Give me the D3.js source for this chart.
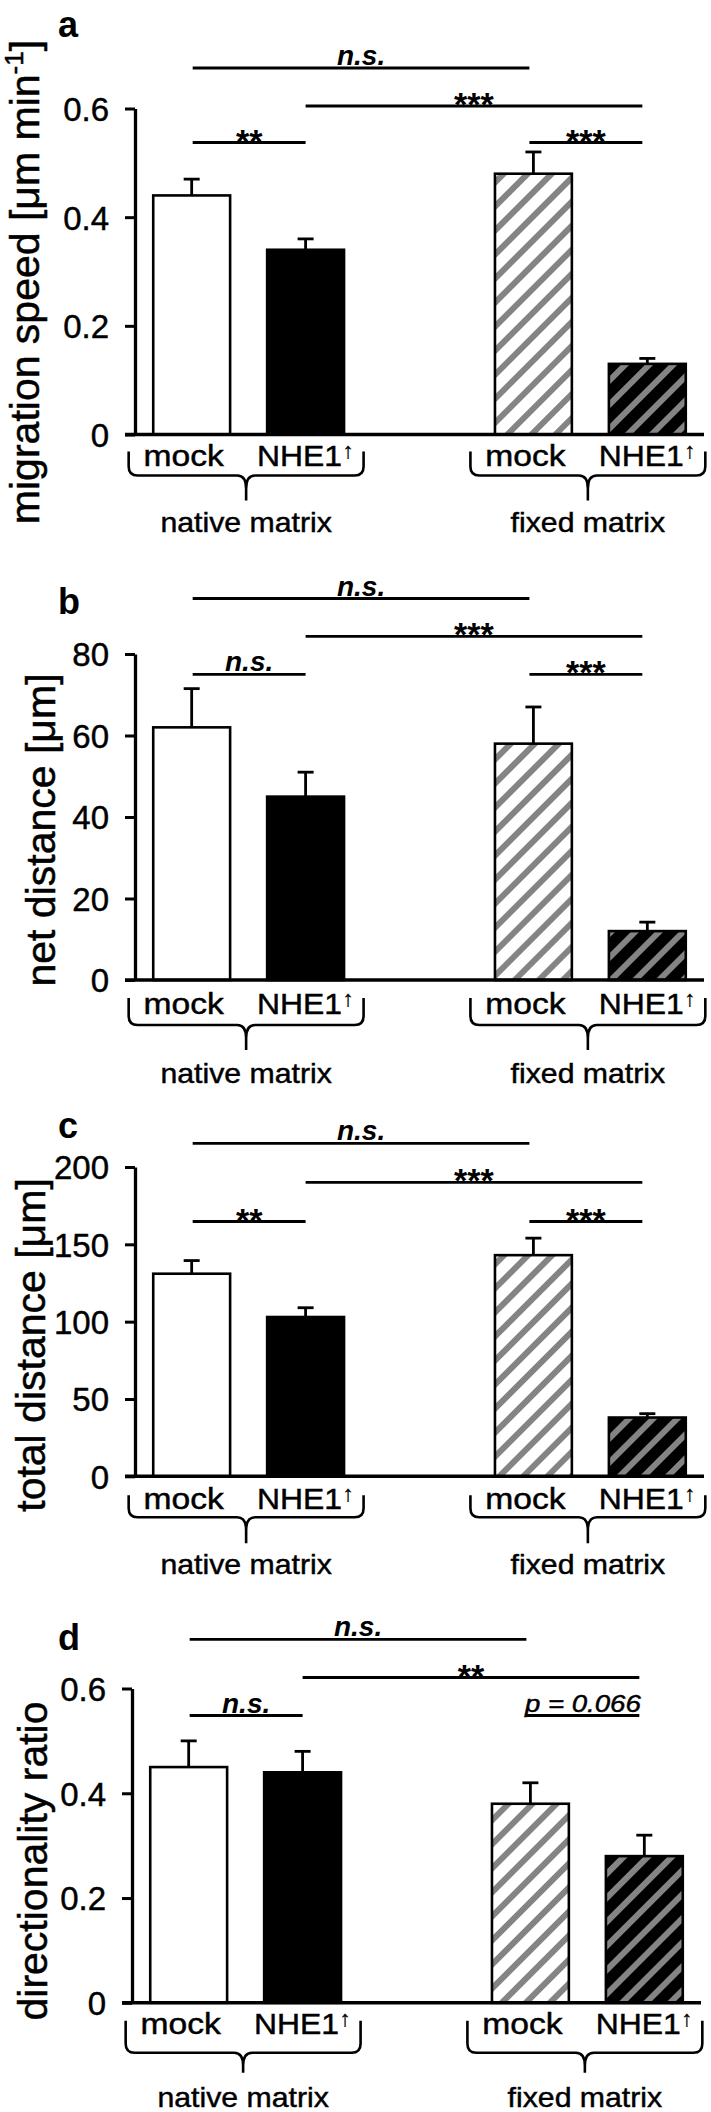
<!DOCTYPE html>
<html><head><meta charset="utf-8">
<script src="https://cdn.jsdelivr.net/npm/d3@7"></script>
<style>body{margin:0;background:#fff}svg{display:block}</style>
</head><body>
<script>
// ---------- data ----------
const categories = ["native-mock", "native-NHE1", "gap", "fixed-mock", "fixed-NHE1"];
const barCategories = ["native-mock", "native-NHE1", "fixed-mock", "fixed-NHE1"];
const barLabels = ["mock", "NHE1", "mock", "NHE1"];
const groupLabels = ["native matrix", "fixed matrix"];

const speedMean = [0.44, 0.34, 0.48, 0.13];
const speedErr  = [0.03, 0.02, 0.04, 0.01];
const netMean   = [62, 45, 58, 12];
const netErr    = [9.5, 6, 9, 2.2];
const totalMean = [131, 103, 143, 38];
const totalErr  = [8.5, 6, 11, 2.5];
const dirMean   = [0.45, 0.44, 0.38, 0.28];
const dirErr    = [0.05, 0.04, 0.04, 0.04];

const speedTicks = [0, 0.2, 0.4, 0.6];
const netTicks   = [0, 20, 40, 60, 80];
const totalTicks = [0, 50, 100, 150, 200];
const dirTicks   = [0, 0.2, 0.4, 0.6];

const sigPairs  = [[0, 2], [1, 3], [0, 1], [2, 3]];
const sigLevels = [0, 1, 2, 2];
const sigA = ["n.s.", "***", "**", "***"];
const sigB = ["n.s.", "***", "n.s.", "***"];
const sigC = ["n.s.", "***", "**", "***"];
const sigD = ["n.s.", "**", "n.s.", "p = 0.066"];

const panelLetters = ["a", "b", "c", "d"];
const yTitles = [["migration speed [μm min", "-1", "]"], ["net distance [μm]"], ["total distance [μm]"], ["directionality ratio"]];

// ---------- layout (positions only) ----------
const layout = [
  {zero: 434.5, top: 108.5, sig: [68, 106, 142.5], letterY: 37, yLabelX: 39, yLabelY: 282, dx: 0, lab: 31, brace: [17, 41, 66], group: 97.5},
  {zero: 980, top: 654, sig: [598.5, 636.4, 674.3], letterY: 614, yLabelX: 55, yLabelY: 830, dx: 0, lab: 34, brace: [18, 45, 70], group: 103},
  {zero: 1476.3, top: 1167, sig: [1143.3, 1182.3, 1221.5], letterY: 1138, yLabelX: 45, yLabelY: 1345, dx: 0, lab: 33, brace: [19, 41, 67], group: 98},
  {zero: 2002.8, top: 1688.5, sig: [1639.3, 1677.5, 1715.5], letterY: 1650, yLabelX: 47, yLabelY: 1861, dx: -3, lab: 31, brace: [18, 50, 70], group: 104}
];
const sigAdj = [1, 0, -4, -5];

const panels = [
  {mean: speedMean, err: speedErr, ticks: speedTicks, sig: sigA},
  {mean: netMean, err: netErr, ticks: netTicks, sig: sigB},
  {mean: totalMean, err: totalErr, ticks: totalTicks, sig: sigC},
  {mean: dirMean, err: dirErr, ticks: dirTicks, sig: sigD}
];

const FONT = "'Liberation Sans', Arial, Helvetica, sans-serif";
const W = 711, H = 2112;
const svg = d3.select("body").append("svg").attr("width", W).attr("height", H)
  .style("font-family", FONT);

// patterns
const defs = svg.append("defs");
[["hatchWhite", "#fff"], ["hatchBlack", "#000"]].forEach(([id, bg]) => {
  const p = defs.append("pattern").attr("id", id).attr("patternUnits", "userSpaceOnUse")
    .attr("width", 17).attr("height", 17).attr("patternTransform", "rotate(45)");
  p.append("rect").attr("width", 17).attr("height", 17).attr("fill", bg);
  p.append("rect").attr("x", 0).attr("width", 6).attr("height", 17).attr("fill", "#848484");
});
const fills = ["#fff", "#000", "url(#hatchWhite)", "url(#hatchBlack)"];

function stext(g, x, y, str, size, sx, opts = {}) {
  const t = g.append("g").attr("transform", `translate(${x},${y}) scale(${sx},1)`)
    .append("text").attr("text-anchor", opts.anchor || "middle")
    .attr("font-size", size).attr("fill", "#000");
  if (opts.weight) t.attr("font-weight", opts.weight);
  else t.attr("stroke", "#000").attr("stroke-width", 0.45);
  if (opts.style) t.attr("font-style", opts.style);
  t.text(str);
  return t;
}

panels.forEach((P, pi) => {
  const L = layout[pi];
  const g = svg.append("g");
  const x = d3.scaleBand().domain(categories).range([135 + L.dx, 704 + L.dx])
    .paddingInner(0.325).paddingOuter(0.16);
  const y = d3.scaleLinear().domain([0, d3.max(P.ticks)]).range([L.zero, L.top]);
  const cx = i => x(barCategories[i]) + x.bandwidth() / 2;

  // panel letter
  g.append("text").attr("x", 58).attr("y", L.letterY).attr("font-size", 36)
    .attr("font-weight", "bold").text(panelLetters[pi]);

  // y title
  const yt = g.append("text").attr("transform", `translate(${L.yLabelX},${L.yLabelY}) rotate(-90)`)
    .attr("text-anchor", "middle").attr("font-size", 41)
    .attr("stroke", "#000").attr("stroke-width", 0.5);
  const parts = yTitles[pi];
  if (parts.length === 1) yt.text(parts[0]);
  else {
    yt.append("tspan").text(parts[0]);
    yt.append("tspan").attr("font-size", 26).attr("dy", -16).text(parts[1]);
    yt.append("tspan").attr("dy", 16).text(parts[2]);
  }

  // bars
  g.selectAll("rect.bar").data(P.mean).join("rect").attr("class", "bar")
    .attr("x", (d, i) => x(barCategories[i])).attr("width", x.bandwidth())
    .attr("y", d => y(d)).attr("height", d => y(0) - y(d))
    .attr("fill", (d, i) => fills[i]).attr("stroke", "#000").attr("stroke-width", 2.6);

  // error bars
  const eb = g.selectAll("g.eb").data(P.mean).join("g").attr("class", "eb")
    .attr("stroke", "#000").attr("stroke-width", 2.8);
  eb.append("line").attr("x1", (d, i) => cx(i)).attr("x2", (d, i) => cx(i))
    .attr("y1", d => y(d)).attr("y2", (d, i) => y(d + P.err[i]));
  eb.append("line").attr("x1", (d, i) => cx(i) - 8).attr("x2", (d, i) => cx(i) + 8)
    .attr("y1", (d, i) => y(d + P.err[i])).attr("y2", (d, i) => y(d + P.err[i]));

  // y axis
  const yAxis = d3.axisLeft(y).tickValues(P.ticks).tickSize(10).tickSizeOuter(0).tickPadding(16)
    .tickFormat(d => String(d));
  const ya = g.append("g").attr("transform", `translate(${x.range()[0]},0)`).call(yAxis);
  ya.select(".domain").attr("stroke", "#000").attr("stroke-width", 3.3);
  ya.selectAll(".tick line").attr("stroke", "#000").attr("stroke-width", 3);
  ya.selectAll(".tick text").attr("font-size", 33).attr("font-family", FONT).attr("fill", "#000")
    .attr("stroke", "#000").attr("stroke-width", 0.45).attr("dy", "0.36em");

  // x axis line
  g.append("line").attr("x1", x.range()[0] - 10).attr("x2", x.range()[1])
    .attr("y1", y(0)).attr("y2", y(0)).attr("stroke", "#000").attr("stroke-width", 3.5);

  // category labels
  barLabels.forEach((lab, i) => {
    if (lab === "mock") {
      stext(g, cx(i) - 8, L.zero + L.lab, lab, 29, 1.16);
    } else {
      const t = stext(g, cx(i), L.zero + L.lab, "", 29, 1.1);
      t.append("tspan").text(lab);
      t.append("tspan").attr("font-size", 22).attr("stroke-width", 0.2).attr("dy", -8).text("↑");
    }
  });

  // braces + group labels
  [[0, 1], [2, 3]].forEach(([a, b], gi) => {
    const x0 = cx(a) - 63, x1 = cx(b) + 58, mid = (x0 + x1) / 2;
    const t0 = L.zero + L.brace[0], h = L.zero + L.brace[1], tip = L.zero + L.brace[2], r = 9;
    const path = `M${x0},${t0} L${x0},${h - r} Q${x0},${h} ${x0 + r},${h} L${mid - r},${h} Q${mid},${h} ${mid},${h + r + 4} L${mid},${tip}` +
      ` M${mid},${h + r + 4} Q${mid},${h} ${mid + r},${h} L${x1 - r},${h} Q${x1},${h} ${x1},${h - r} L${x1},${t0}`;
    g.append("path").attr("d", path).attr("fill", "none").attr("stroke", "#000").attr("stroke-width", 2.6);
    stext(g, mid, L.zero + L.group, groupLabels[gi], 28, 1.08);
  });

  // significance
  sigPairs.forEach(([a, b], si) => {
    const ly = L.sig[sigLevels[si]];
    const xa = cx(a) + sigAdj[a], xb = cx(b) + sigAdj[b];
    g.append("line").attr("x1", xa).attr("x2", xb).attr("y1", ly).attr("y2", ly)
      .attr("stroke", "#000").attr("stroke-width", 2.8);
    const label = P.sig[si], m = (xa + xb) / 2;
    if (label === "n.s.") stext(g, m, ly - 3, label, 28, 1.0, {weight: "bold", style: "italic"});
    else if (label.startsWith("*")) stext(g, m, ly + 10, label, 34, 1.0, {weight: "bold"});
    else stext(g, m, ly - 4, label, 24, 1.15, {style: "italic"});
  });
});
</script>
</body></html>
